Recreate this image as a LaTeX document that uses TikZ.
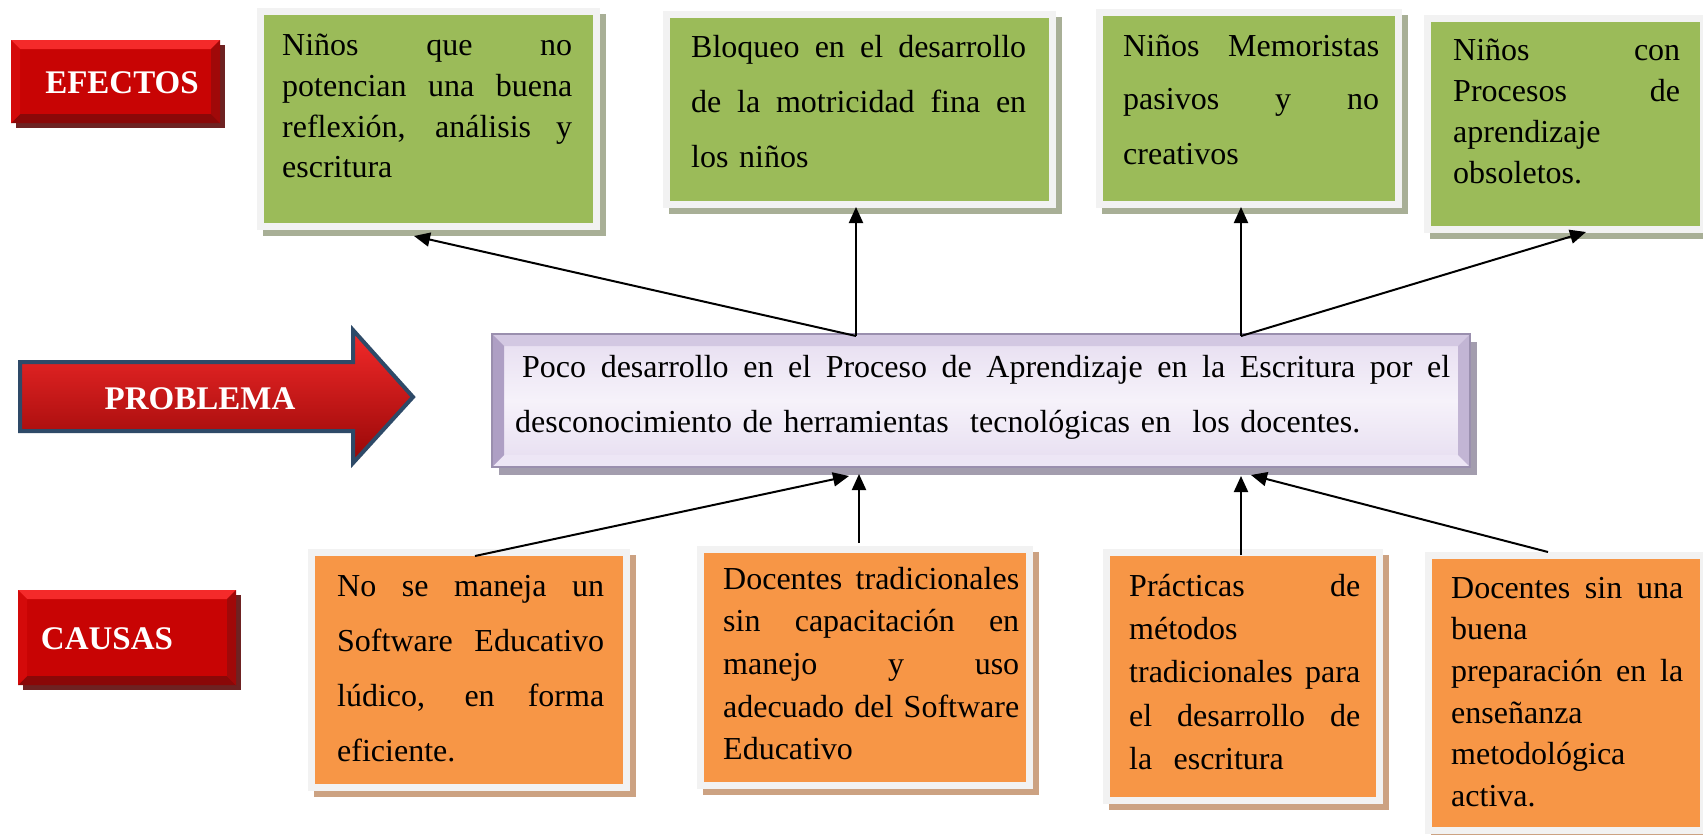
\documentclass[tikz,border=0pt]{standalone}
\usepackage{fontspec}
\setmainfont{Liberation Serif}
\usetikzlibrary{arrows.meta,calc,backgrounds}
\definecolor{effgreen}{HTML}{9BBB59}
\definecolor{causeorange}{HTML}{F79646}
\definecolor{framegray}{HTML}{F2F2F2}
\definecolor{gshadow}{HTML}{A8AF96}
\definecolor{oshadow}{HTML}{CCA282}
\definecolor{redface}{HTML}{C80404}
\definecolor{redtop}{HTML}{F42A2A}
\definecolor{redleft}{HTML}{D40A0A}
\definecolor{redbottom}{HTML}{8A0808}
\definecolor{redright}{HTML}{A00909}
\definecolor{redshadow}{HTML}{6E2222}
\definecolor{arrowborder}{HTML}{2E4A68}
\definecolor{lavtop}{HTML}{D3C8E2}
\definecolor{lavleft}{HTML}{AE9FC4}
\definecolor{lavright}{HTML}{C2B5D4}
\definecolor{lavbottom}{HTML}{EDE6F5}
\definecolor{lavface}{HTML}{E6DDF0}
\definecolor{lavcenter}{HTML}{F6F2FA}
\definecolor{lavborder}{HTML}{9A8FAE}
\definecolor{lavshadow}{HTML}{A39DAE}
\newdimen\jw
\newcommand{\jl}[1]{\leavevmode\hbox to \jw{\spaceskip=.25em plus 1fil\relax\xspaceskip=\spaceskip #1}}
\begin{document}
\begin{tikzpicture}[x=1pt,y=-1pt,
  frameG/.style={draw=framegray, line width=7pt, fill=effgreen, inner sep=0pt, outer sep=3.5pt},
  frameO/.style={frameG, fill=causeorange},
  txt/.style={inner sep=0pt, anchor=base west, align=left},
  arr/.style={line width=2pt, -{Triangle[length=16pt,width=14pt]}},
  lbl/.style={text=white, font=\fontsize{33}{33}\selectfont\bfseries, inner sep=0pt, anchor=base},
  bev/.style={path picture={
    \fill[#1top] (path picture bounding box.north west) -- (path picture bounding box.north east)
      -- ([shift={(-9,9)}]path picture bounding box.north east) -- ([shift={(9,9)}]path picture bounding box.north west) -- cycle;
    \fill[#1bottom] (path picture bounding box.south west) -- (path picture bounding box.south east)
      -- ([shift={(-9,-9)}]path picture bounding box.south east) -- ([shift={(9,-9)}]path picture bounding box.south west) -- cycle;
    \fill[#1left] (path picture bounding box.north west) -- ([shift={(9,9)}]path picture bounding box.north west)
      -- ([shift={(9,-9)}]path picture bounding box.south west) -- (path picture bounding box.south west) -- cycle;
    \fill[#1right] (path picture bounding box.north east) -- ([shift={(-9,9)}]path picture bounding box.north east)
      -- ([shift={(-9,-9)}]path picture bounding box.south east) -- (path picture bounding box.south east) -- cycle;
  }},
  redbox/.style={fill=redface, inner sep=0pt, outer sep=0pt, bev=red},
]
\useasboundingbox (0,0) rectangle (1703,835);

% ---------- labels on the left
\node[redbox, minimum width=209, minimum height=83] (efx) at (115.5,81.5) {};
\node[lbl] (efxt) at (122,93) {EFECTOS};
\node[redbox, minimum width=218, minimum height=95] (cau) at (127,637.5) {};
\node[lbl] (caut) at (107,649) {CAUSAS};

\draw[line width=4pt, draw=arrowborder, line join=miter, top color=redtop, middle color=redface, bottom color=redbottom!80!redface]
  (20,362) -- (353,362) -- (353,330) -- (413,397) -- (353,463) -- (353,431) -- (20,431) -- cycle;
\node[lbl] (problema) at (200,409) {PROBLEMA};

% ---------- central problem box
\node[draw=lavborder, line width=1.2pt, fill=lavface, inner sep=0pt, outer sep=0pt,
      minimum width=978, minimum height=133,
      path picture={
        \shade[top color=lavface, bottom color=lavface, middle color=lavcenter]
          ([shift={(12,12)}]path picture bounding box.north west) rectangle ([shift={(-12,-12)}]path picture bounding box.south east);
        \fill[lavtop] (path picture bounding box.north west) -- (path picture bounding box.north east)
          -- ([shift={(-12,12)}]path picture bounding box.north east) -- ([shift={(12,12)}]path picture bounding box.north west) -- cycle;
        \fill[lavbottom] (path picture bounding box.south west) -- (path picture bounding box.south east)
          -- ([shift={(-12,-12)}]path picture bounding box.south east) -- ([shift={(12,-12)}]path picture bounding box.south west) -- cycle;
        \fill[lavleft] (path picture bounding box.north west) -- ([shift={(12,12)}]path picture bounding box.north west)
          -- ([shift={(12,-12)}]path picture bounding box.south west) -- (path picture bounding box.south west) -- cycle;
        \fill[lavright] (path picture bounding box.north east) -- ([shift={(-12,12)}]path picture bounding box.north east)
          -- ([shift={(-12,-12)}]path picture bounding box.south east) -- (path picture bounding box.south east) -- cycle;
      }] (prob) at (981,400.5) {};
\node[txt, text width=935, font=\fontsize{32}{55}\selectfont] (probt) at (515,377)
  {\jw=935pt\jl{\hspace{7pt}Poco desarrollo en el Proceso de Aprendizaje en la Escritura por el}\\
   desconocimiento de herramientas\ \ tecnológicas en\ \ los docentes.};

% ---------- effect boxes
\node[frameG, minimum width=336, minimum height=215] (e1) at (428.5,119) {};
\node[frameG, minimum width=386, minimum height=190] (e2) at (859.5,109.5) {};
\node[frameG, minimum width=299, minimum height=192] (e3) at (1249,108.5) {};
\node[frameG, minimum width=276, minimum height=211] (e4) at (1565.5,124) {};

\node[txt, text width=290, font=\fontsize{32}{41}\selectfont] (e1t) at (282,55)
  {\jw=290pt\jl{Niños que no}\\ \jl{potencian una buena}\\ \jl{reflexión, análisis y}\\ escritura};
\node[txt, text width=335, font=\fontsize{32}{55}\selectfont] (e2t) at (691,57)
  {\jw=335pt\jl{Bloqueo en el desarrollo}\\ \jl{de la motricidad fina en}\\ los niños};
\node[txt, text width=256, font=\fontsize{32}{54}\selectfont] (e3t) at (1123,56)
  {\jw=256pt\jl{Niños Memoristas}\\ \jl{pasivos y no}\\ creativos};
\node[txt, text width=227, font=\fontsize{32}{41.3}\selectfont] (e4t) at (1453,60)
  {\jw=227pt\jl{Niños con}\\ \jl{Procesos de}\\ aprendizaje\\ obsoletos.};

% ---------- cause boxes
\node[frameO, minimum width=315, minimum height=235] (c1) at (469,670) {};
\node[frameO, minimum width=329, minimum height=236] (c2) at (865,667.5) {};
\node[frameO, minimum width=273, minimum height=248] (c3) at (1243,676.5) {};
\node[frameO, minimum width=275, minimum height=275] (c4) at (1566,693) {};

\node[txt, text width=267, font=\fontsize{32}{55}\selectfont] (c1t) at (337,596)
  {\jw=267pt\jl{No se maneja un}\\ \jl{Software Educativo}\\ \jl{lúdico, en forma}\\ eficiente.};
\node[txt, text width=296, font=\fontsize{32}{42.7}\selectfont] (c2t) at (723,589)
  {\jw=296pt\jl{Docentes tradicionales}\\ \jl{sin capacitación en}\\ \jl{manejo y uso}\\ \jl{adecuado del Software}\\ Educativo};
\node[txt, text width=231, font=\fontsize{32}{43.4}\selectfont] (c3t) at (1129,596)
  {\jw=231pt\jl{Prácticas de}\\ métodos\\ \jl{tradicionales para}\\ \jl{el desarrollo de}\\ la\ \ escritura};
\node[txt, text width=232, font=\fontsize{32}{41.7}\selectfont] (c4t) at (1451,598)
  {\jw=232pt\jl{Docentes sin una}\\ buena\\ \jl{preparación en la}\\ enseñanza\\ metodológica\\ activa.};

% ---------- shadows
\begin{scope}[on background layer]
  \foreach \n in {e1,e2,e3,e4}
    \fill[gshadow] ([shift={(6,6)}]\n.south west) rectangle ([shift={(6,6)}]\n.north east);
  \foreach \n in {c1,c2,c3,c4}
    \fill[oshadow] ([shift={(6,6)}]\n.south west) rectangle ([shift={(6,6)}]\n.north east);
  \fill[lavshadow] ([shift={(7,8)}]prob.south west) rectangle ([shift={(7,8)}]prob.north east);
  \foreach \n in {efx,cau}
    \fill[redshadow] ([shift={(5,5)}]\n.south west) rectangle ([shift={(5,5)}]\n.north east);
\end{scope}

% ---------- connectors
\coordinate (ps1) at (856,336);
\coordinate (ps2) at (1241,336);
\coordinate (e1p) at (414,236);
\coordinate (e2p) at (856,207);
\coordinate (e3p) at (1241,207);
\coordinate (e4p) at (1586,232);
\draw[arr] (ps1) -- (e1p);
\draw[arr] (ps1) -- (e2p);
\draw[arr] (ps2) -- (e3p);
\draw[arr] (ps2) -- (e4p);

\coordinate (c1p) at (475,556);
\coordinate (c2p) at (859,543);
\coordinate (c3p) at (1241,555);
\coordinate (c4p) at (1548,552);
\coordinate (pb1) at (849,476);
\coordinate (pb2) at (859,474);
\coordinate (pb3) at (1241,476);
\coordinate (pb4) at (1251,475);
\draw[arr] (c1p) -- (pb1);
\draw[arr] (c2p) -- (pb2);
\draw[arr] (c3p) -- (pb3);
\draw[arr] (c4p) -- (pb4);
\end{tikzpicture}
\end{document}
